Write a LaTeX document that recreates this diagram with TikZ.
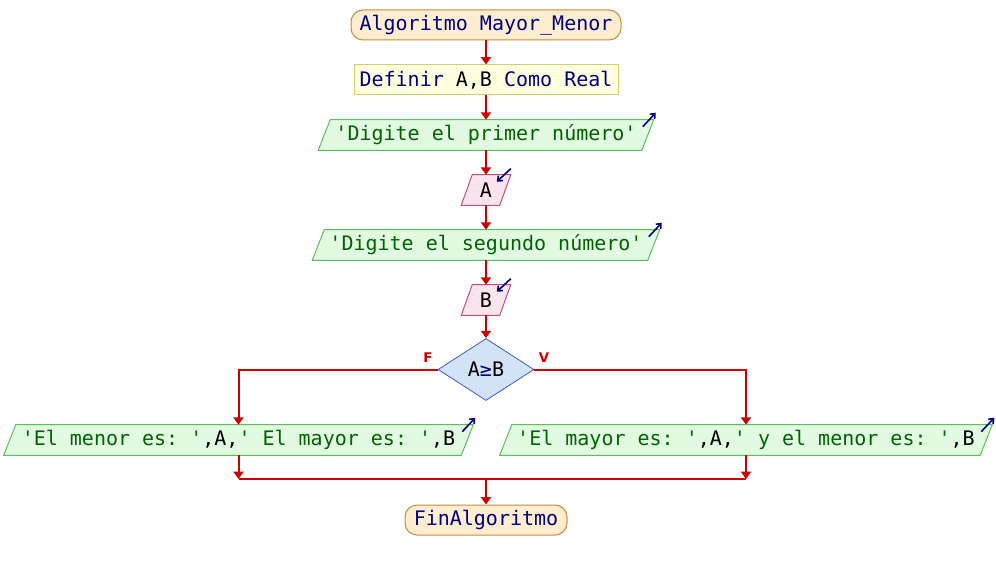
\documentclass[tikz,border=0pt]{standalone}
\usepackage{fontspec}
\setmonofont{DejaVu Sans Mono}
\newfontfamily\lblfont{DejaVu Sans}
\usetikzlibrary{shapes.geometric,arrows.meta,calc}
\pgfdeclarelayer{background}
\pgfsetlayers{background,main}
\definecolor{kw}{HTML}{000080}
\definecolor{strc}{HTML}{006400}
\definecolor{flow}{HTML}{CC0000}
\definecolor{termfill}{HTML}{FFEDD0}
\definecolor{termline}{HTML}{C88C3C}
\definecolor{deffill}{HTML}{FFFFE0}
\definecolor{defline}{HTML}{D8CC70}
\definecolor{outfill}{HTML}{E2FAE2}
\definecolor{outline}{HTML}{5CBF5C}
\definecolor{infill}{HTML}{FCE4EE}
\definecolor{inline}{HTML}{C05080}
\definecolor{decfill}{HTML}{D4E2F8}
\definecolor{decline}{HTML}{3C5CC8}
\newcommand{\kwd}[1]{\textcolor{kw}{#1}}
\newcommand{\strg}[1]{\textcolor{strc}{#1}}
\begin{document}
\begin{tikzpicture}[x=0.75pt,y=-0.75pt,
  every node/.style={font=\ttfamily\fontsize{15pt}{18pt}\selectfont, inner sep=0pt},
  term/.style={draw=termline, fill=termfill, rounded corners=9pt, minimum height=22.5pt, line width=0.75pt},
  defbox/.style={draw=defline, fill=deffill, minimum height=22.5pt, line width=0.75pt},
  iobox/.style={minimum height=22.5pt},
  outshape/.style={draw=outline, fill=outfill, line width=0.75pt},
  inshape/.style={draw=inline, fill=infill, line width=0.75pt},
  decbox/.style={diamond, draw=decline, fill=decfill, minimum width=72pt, minimum height=46.5pt, line width=0.6pt},
  flowline/.style={draw=flow, line width=1.5pt},
  flowarrow/.style={flowline, -{Triangle[width=7.5pt,length=5.5pt]}},
  branch/.style={text=flow, font=\lblfont\bfseries\fontsize{10pt}{11pt}\selectfont},
  ioicon/.style={draw=kw, line width=1.2pt, -{Straight Barb[length=3pt,width=5pt]}}
]
\useasboundingbox (0,0) rectangle (996,570);

% statements
\node[term, minimum width=202.5pt] (start) at (486,25) {\kwd{Algoritmo Mayor\_Menor}};
\node[defbox, minimum width=198pt] (def) at (486,80) {\kwd{Definir} A,B \kwd{Como Real}};
\node[iobox, minimum width=242.25pt] (o1) at (486,135) {\strg{'Digite el primer número'}};
\node[iobox, minimum width=28.5pt] (in1) at (486,190) {A};
\node[iobox, minimum width=251.25pt] (o2) at (486,245) {\strg{'Digite el segundo número'}};
\node[iobox, minimum width=28.5pt] (in2) at (486,300) {B};
\node[decbox] (dec) at (486,369.5) {A\kwd{≥}B};
\node[branch] (lblF) at (428,358) {F};
\node[branch] (lblV) at (544,358) {V};
\node[iobox, minimum width=342.75pt] (lo) at (238.5,440) {\strg{'El menor es: '},A,\strg{' El mayor es: '},B};
\node[iobox, minimum width=360pt] (ro) at (746,440) {\strg{'El mayor es: '},A,\strg{' y el menor es: '},B};
\node[term, minimum width=121.5pt] (end) at (486,520) {\kwd{FinAlgoritmo}};

% page background, parallelogram outlines for input/output
\begin{pgfonlayer}{background}
  \fill[white] (0,0) rectangle (996,570);
  \foreach \n in {o1,o2,lo,ro} {
    \draw[outshape] ($(\n.south west)+(-6,0)$) -- ($(\n.north west)+(6,0)$)
      -- ($(\n.north east)+(6,0)$) -- ($(\n.south east)+(-6,0)$) -- cycle;
  }
  \foreach \n in {in1,in2} {
    \draw[inshape] ($(\n.south west)+(-5.5,0)$) -- ($(\n.north west)+(5.5,0)$)
      -- ($(\n.north east)+(5.5,0)$) -- ($(\n.south east)+(-5.5,0)$) -- cycle;
  }
\end{pgfonlayer}
% direction marks: out for output, in for input
\foreach \n in {o1,o2,lo,ro} {
  \draw[ioicon] ($(\n.north east)+(-5,7)$) -- ($(\n.north east)+(8,-7)$);
}
\foreach \n in {in1,in2} {
  \draw[ioicon] ($(\n.north east)+(5.5,-6)$) -- ($(\n.north east)+(-8.5,7)$);
}

% flow
\draw[flowarrow] (start) -- (def);
\draw[flowarrow] (def) -- (o1);
\draw[flowarrow] (o1) -- (in1);
\draw[flowarrow] (in1) -- (o2);
\draw[flowarrow] (o2) -- (in2);
\draw[flowarrow] (in2) -- (dec);
\draw[flowarrow] (dec.west) -| (lo.north);
\draw[flowarrow] (dec.east) -| (ro.north);

\coordinate (jl) at (238.5,479);
\coordinate (jr) at (746,479);
\coordinate (jm) at (486,479);
\draw[flowarrow] (lo.south) -- (jl);
\draw[flowarrow] (ro.south) -- (jr);
\draw[flowline] (jl) -- (jr);
\draw[flowarrow] (jm) -- (end);
\end{tikzpicture}
\end{document}
